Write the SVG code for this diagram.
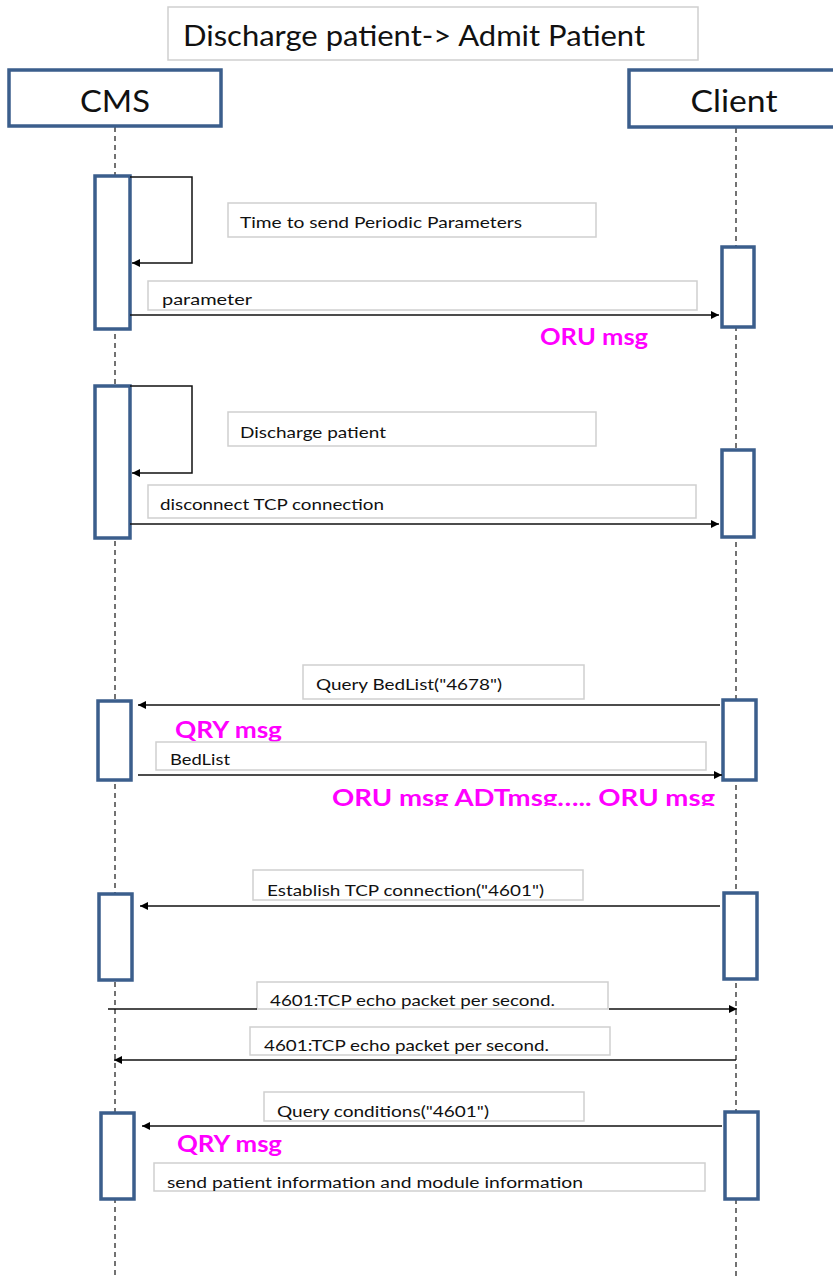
<svg xmlns="http://www.w3.org/2000/svg" width="833" height="1280" viewBox="0 0 833 1280">
<style>
.actor{fill:#fff;stroke:#3B5E8C;stroke-width:3.5}
.act{fill:#fff;stroke:#3B5E8C;stroke-width:3.5}
.lbl{fill:#fff;stroke:#cfcfcf;stroke-width:1.5}
.life{stroke:#444;stroke-width:1.5;stroke-dasharray:5 4;fill:none}
.msg{stroke:#111;stroke-width:1.5;fill:none}
.t{font-family:Lato,"Open Sans","Liberation Sans",sans-serif;fill:#111}
.m{font-family:Lato,"Open Sans","Liberation Sans",sans-serif;fill:#FF00FF;font-weight:bold;font-size:22px}
</style>
<defs>
<marker id="ah" viewBox="0 0 10 10" refX="10" refY="5" markerWidth="8" markerHeight="8" markerUnits="userSpaceOnUse" orient="auto">
<path d="M0,0 L10,5 L0,10 z" fill="#000"/>
</marker>
<clipPath id="clipOru"><rect x="300" y="780" width="450" height="26"/></clipPath>
</defs>
<rect width="833" height="1280" fill="#fff"/>

<g id="title">
<rect x="168" y="7" width="530" height="53" class="lbl"/>
<text x="183" y="46" class="t" font-size="28" textLength="462" lengthAdjust="spacingAndGlyphs">Discharge patient-&gt; Admit Patient</text>
</g>

<g id="lifelines">
<line x1="115" y1="127" x2="115" y2="1276" class="life"/>
<line x1="736" y1="128" x2="736" y2="1276" class="life"/>
</g>

<g id="cms">
<rect x="9" y="70" width="212" height="56" class="actor"/>
<text x="115" y="112" class="t" font-size="30" text-anchor="middle" textLength="70" lengthAdjust="spacingAndGlyphs">CMS</text>
</g>
<g id="client">
<rect x="629" y="70" width="210" height="57" class="actor"/>
<text x="734" y="112" class="t" font-size="30" text-anchor="middle" textLength="87" lengthAdjust="spacingAndGlyphs">Client</text>
</g>

<g id="activations">
<rect id="a1" x="95" y="176" width="35" height="153" class="act"/>
<rect id="a2" x="722" y="247" width="32" height="80" class="act"/>
<rect id="a3" x="95" y="386" width="35" height="152" class="act"/>
<rect id="a4" x="722" y="450" width="32" height="87" class="act"/>
<rect id="a5" x="98" y="701" width="33" height="79" class="act"/>
<rect id="a6" x="723" y="700" width="33" height="80" class="act"/>
<rect id="a7" x="99" y="894" width="33" height="86" class="act"/>
<rect id="a8" x="724" y="893" width="33" height="86" class="act"/>
<rect id="a9" x="101" y="1113" width="33" height="86" class="act"/>
<rect id="a10" x="725" y="1112" width="33" height="87" class="act"/>
</g>

<g id="labels">
<rect x="228" y="203" width="368" height="34" class="lbl"/>
<text x="240" y="228" class="t" font-size="16" textLength="282" lengthAdjust="spacingAndGlyphs">Time to send Periodic Parameters</text>
<rect x="148" y="281" width="549" height="29" class="lbl"/>
<text x="162" y="305" class="t" font-size="16" textLength="90" lengthAdjust="spacingAndGlyphs">parameter</text>
<text x="540" y="345" class="m" textLength="108" lengthAdjust="spacingAndGlyphs">ORU msg</text>

<rect x="228" y="412" width="368" height="34" class="lbl"/>
<text x="240" y="438" class="t" font-size="16" textLength="146" lengthAdjust="spacingAndGlyphs">Discharge patient</text>
<rect x="148" y="485" width="548" height="33" class="lbl"/>
<text x="160" y="510" class="t" font-size="16" textLength="224" lengthAdjust="spacingAndGlyphs">disconnect TCP connection</text>

<rect x="303" y="665" width="281" height="34" class="lbl"/>
<text x="316" y="690" class="t" font-size="16" textLength="186" lengthAdjust="spacingAndGlyphs">Query BedList("4678")</text>
<text x="175" y="738" class="m" textLength="107" lengthAdjust="spacingAndGlyphs">QRY msg</text>
<rect x="156" y="742" width="550" height="28" class="lbl"/>
<text x="170" y="765" class="t" font-size="16" textLength="60" lengthAdjust="spacingAndGlyphs">BedList</text>
<text x="332" y="806" class="m" textLength="383" lengthAdjust="spacingAndGlyphs" clip-path="url(#clipOru)">ORU msg ADTmsg…..  ORU msg</text>

<rect x="253" y="870" width="330" height="30" class="lbl"/>
<text x="267" y="896" class="t" font-size="16" textLength="277" lengthAdjust="spacingAndGlyphs">Establish TCP connection("4601")</text>

<rect x="257" y="982" width="351" height="27" class="lbl"/>
<text x="270" y="1006" class="t" font-size="16" textLength="285" lengthAdjust="spacingAndGlyphs">4601:TCP  echo packet per second.</text>
<rect x="250" y="1027" width="360" height="28" class="lbl"/>
<text x="264" y="1051" class="t" font-size="16" textLength="285" lengthAdjust="spacingAndGlyphs">4601:TCP  echo packet per second.</text>

<rect x="264" y="1092" width="320" height="29" class="lbl"/>
<text x="277" y="1117" class="t" font-size="16" textLength="212" lengthAdjust="spacingAndGlyphs">Query conditions("4601")</text>
<text x="177" y="1152" class="m" textLength="105" lengthAdjust="spacingAndGlyphs">QRY msg</text>
<rect x="154" y="1163" width="551" height="28" class="lbl"/>
<text x="167" y="1188" class="t" font-size="16" textLength="416" lengthAdjust="spacingAndGlyphs">send patient information and module information</text>
</g>

<g id="connectors">
<polyline points="130,177 192,177 192,263 132,263" class="msg" marker-end="url(#ah)"/>
<line x1="130" y1="315" x2="719" y2="315" class="msg" marker-end="url(#ah)"/>
<polyline points="130,386 192,386 192,473 132,473" class="msg" marker-end="url(#ah)"/>
<line x1="130" y1="524" x2="719" y2="524" class="msg" marker-end="url(#ah)"/>
<line x1="720" y1="705" x2="138" y2="705" class="msg" marker-end="url(#ah)"/>
<line x1="138" y1="775" x2="722" y2="775" class="msg" marker-end="url(#ah)"/>
<line x1="720" y1="906" x2="140" y2="906" class="msg" marker-end="url(#ah)"/>
<line x1="108" y1="1009" x2="257" y2="1009" class="msg"/>
<line x1="609" y1="1009" x2="737" y2="1009" class="msg" marker-end="url(#ah)"/>
<line x1="736" y1="1060" x2="114" y2="1060" class="msg" marker-end="url(#ah)"/>
<line x1="722" y1="1126" x2="142" y2="1126" class="msg" marker-end="url(#ah)"/>
</g>
</svg>
